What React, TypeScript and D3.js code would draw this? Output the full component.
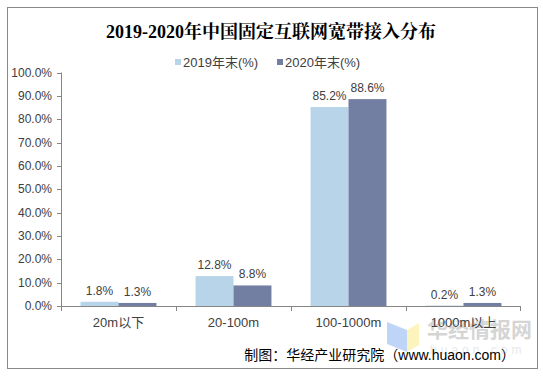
import React from "react";
import * as d3 from "d3";

const categories = ["20m以下", "20-100m", "100-1000m", "1000m以上"];
const series2019 = [1.8, 12.8, 85.2, 0.2];
const series2020 = [1.3, 8.8, 88.6, 1.3];
const seriesNames = ["2019年末(%)", "2020年末(%)"];
const yTicks = [0, 10, 20, 30, 40, 50, 60, 70, 80, 90, 100];

const colors = ["#B7D4E8", "#737FA2"];
const W = 543;
const H = 376;

export default function App() {
  const x = d3.scaleBand<string>().domain(categories).range([61, 521]).paddingInner(0.34).paddingOuter(0.17);
  const band = d3.scaleBand<number>().domain([0, 1]).range([0, x.bandwidth()]);
  const y = d3.scaleLinear().domain([0, 100]).range([306, 72.5]);
  const catX = d3.scaleBand<string>().domain(categories).range([61, 521]);
  const allSeries = [series2019, series2020];
  const font = "Arial, 'Liberation Sans', 'Noto Sans CJK SC', sans-serif";

  return (
    <svg width={W} height={H} style={{ position: "absolute", left: 0, top: 0, background: "#fff" }}>
      <rect x={0} y={0} width={W} height={H} fill="#fff" />
      <rect x={7.5} y={7.5} width={530} height={361} fill="#fff" stroke="#888" strokeWidth={1} />
      <text x={271} y={38} textAnchor="middle" fontSize={18} fontWeight="bold" fontFamily="'Liberation Serif', 'Noto Serif CJK SC', 'Noto Sans CJK SC', serif" fill="#000">
        2019-2020年中国固定互联网宽带接入分布
      </text>
      {/* legend */}
      {seriesNames.map((n, i) => (
        <g key={n} transform={`translate(${[175, 277][i]},0)`}>
          <rect x={0} y={59} width={6} height={6} fill={colors[i]} />
          <text x={8} y={67} fontSize={13} fontFamily={font} fill="#404040">{n}</text>
        </g>
      ))}
      {/* watermark */}
      <g opacity={0.75}>
        <path d="M387,322 L407,330 L407,352 L387,344 Z" fill="#A9C8F5" />
        <path d="M407,330 L419,323 L419,345 L407,352 Z" fill="#FCEFA8" />
        <text x={427} y={337} fontSize={21} fontWeight="bold" fontFamily="'Noto Sans CJK SC', sans-serif" fill="#C8C8C8">华经情报网</text>
        <text x={430} y={354} fontSize={12} fontFamily={font} fill="#E2E2E2" letterSpacing={4}>huaon.com</text>
      </g>
      {/* y axis */}
      <line x1={61.5} x2={61.5} y1={y(100)} y2={y(0)} stroke="#868686" />
      {yTicks.map((t) => (
        <g key={t}>
          <line x1={57} x2={61.5} y1={Math.round(y(t)) + 0.5} y2={Math.round(y(t)) + 0.5} stroke="#868686" />
          <text x={52} y={y(t) + 4} textAnchor="end" fontSize={12} fontFamily={font} fill="#404040">{t.toFixed(1)}%</text>
        </g>
      ))}
      {/* x axis */}
      <line x1={61} x2={521} y1={306.5} y2={306.5} stroke="#868686" />
      {categories.map((c, i) => (
        <line key={"t" + c} x1={Math.round(catX(c)!) + 0.5} x2={Math.round(catX(c)!) + 0.5} y1={306} y2={311} stroke="#868686" />
      ))}
      <line x1={520.5} x2={520.5} y1={306} y2={311} stroke="#868686" />
      {categories.map((c) => (
        <text key={"l" + c} x={catX(c)! + catX.bandwidth() / 2} y={327} textAnchor="middle" fontSize={13} fontFamily={font} fill="#404040">{c}</text>
      ))}
      {/* bars */}
      {allSeries.map((s, si) =>
        s.map((v, ci) => {
          const bx = x(categories[ci])! + band(si)!;
          return (
            <g key={si + "-" + ci}>
              <rect x={bx} y={y(v)} width={band.bandwidth()} height={y(0) - y(v)} fill={colors[si]} />
              <text x={bx + band.bandwidth() / 2} y={y(v) - 7} textAnchor="middle" fontSize={12} fontFamily={font} fill="#404040">{v.toFixed(1)}%</text>
            </g>
          );
        })
      )}
      <text x={515} y={360} textAnchor="end" fontSize={14} fontFamily={font} fill="#000">制图：华经产业研究院（www.huaon.com）</text>
    </svg>
  );
}
